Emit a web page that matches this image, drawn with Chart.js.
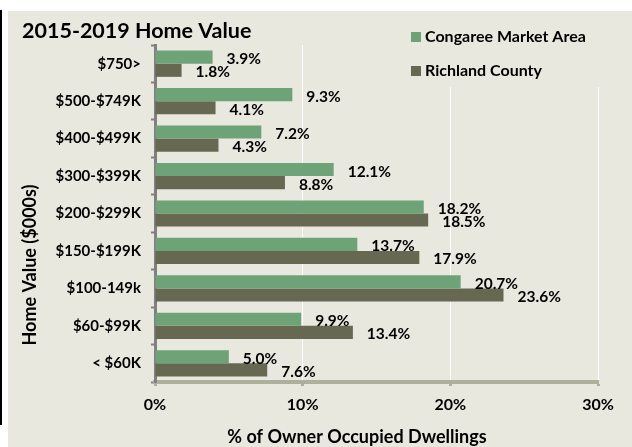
<!DOCTYPE html>
<html>
<head>
<meta charset="utf-8">
<script src="https://cdn.jsdelivr.net/npm/chart.js@4"></script>
<style>
  body { margin: 0; background: #fff; }
  #edge { position: absolute; left: 0; top: 10px; width: 2px; height: 415px; background: #000; }
  #wrap { position: absolute; left: 8px; top: 11px; width: 624px; height: 436px; background: #E9E8DE; }
</style>
</head>
<body>
<div id="edge"></div>
<div id="wrap"><canvas id="chart"></canvas></div>
<script>
const categories = ["$750>", "$500-$749K", "$400-$499K", "$300-$399K", "$200-$299K", "$150-$199K", "$100-149k", "$60-$99K", "< $60K"];
const congaree = [3.9, 9.3, 7.2, 12.1, 18.2, 13.7, 20.7, 9.9, 5.0];
const richland = [1.8, 4.1, 4.3, 8.8, 18.5, 17.9, 23.6, 13.4, 7.6];
const seriesNames = ["Congaree Market Area", "Richland County"];
const xTitle = "% of Owner Occupied Dwellings";
const yTitle = "Home Value ($000s)";
const xMax = 30;

const BG = "#E9E8DE";
const FONT = "Lato";

// value labels at the end of each bar
const barLabels = {
  id: "barLabels",
  afterDatasetsDraw(chart) {
    const ctx = chart.ctx;
    ctx.save();
    ctx.font = "bold 15.5px " + FONT;
    ctx.fillStyle = "#000";
    ctx.textBaseline = "middle";
    chart.data.datasets.forEach((ds, i) => {
      chart.getDatasetMeta(i).data.forEach((bar, j) => {
        ctx.fillText(ds.data[j].toFixed(1) + "%", bar.x + 14, bar.y + 2);
      });
    });
    ctx.restore();
  }
};

// legend box top right (covers grid lines) + axis titles placed like the original
const extras = {
  id: "extras",
  afterDraw(chart) {
    const ctx = chart.ctx;
    ctx.save();
    ctx.fillStyle = BG;
    ctx.fillRect(392, 0, 232, 76);
    ctx.font = "bold 16px " + FONT;
    ctx.textBaseline = "middle";
    chart.data.datasets.forEach((ds, i) => {
      const y = 26 + i * 34;
      ctx.fillStyle = ds.backgroundColor;
      ctx.fillRect(403, y - 5, 10, 10);
      ctx.fillStyle = "#000";
      ctx.fillText(ds.label, 417, y);
    });

    ctx.font = "bold 18px " + FONT;
    ctx.textAlign = "center";
    ctx.fillText(xTitle, 349, 426);
    ctx.translate(22, 254);
    ctx.rotate(-Math.PI / 2);
    ctx.fillText(yTitle, 0, 0);
    ctx.restore();
  }
};

new Chart(document.getElementById("chart"), {
  type: "bar",
  data: {
    labels: categories,
    datasets: [
      { label: seriesNames[0], data: congaree, backgroundColor: "#6EA277" },
      { label: seriesNames[1], data: richland, backgroundColor: "#666852" }
    ]
  },
  options: {
    indexAxis: "y",
    responsive: true,
    maintainAspectRatio: false,
    animation: false,
    layout: { padding: { left: 14, right: 34, top: 0, bottom: 0 } },
    datasets: { bar: { barPercentage: 1.0, categoryPercentage: 0.7 } },
    plugins: {
      legend: { display: false },
      tooltip: { enabled: false },
      title: {
        display: true,
        text: "2015-2019 Home Value",
        align: "start",
        color: "#000",
        font: { family: FONT, size: 21.5, weight: "bold", lineHeight: 1.2 },
        padding: { top: 7, bottom: 1.2 }
      }
    },
    scales: {
      x: {
        min: 0,
        max: xMax,
        ticks: {
          stepSize: 10,
          color: "#000",
          padding: 9,
          font: { family: FONT, size: 16, weight: "bold" },
          callback: (v) => v + "%"
        },
        grid: { color: "#fff", lineWidth: 1, tickColor: "#ADB09A", tickLength: 4, tickWidth: 3 },
        border: { color: "#ADB09A", width: 4 },
        afterFit: (scale) => { scale.height = 65; }
      },
      y: {
        offset: true,
        ticks: {
          color: "#000",
          padding: 10,
          font: { family: FONT, size: 15, weight: "bold" }
        },
        grid: { offset: true, drawOnChartArea: false, tickColor: "#808080", tickLength: 4, tickWidth: 2 },
        border: { color: "#808080", width: 3 },
        afterFit: (scale) => { scale.width = 133; }
      }
    }
  },
  plugins: [barLabels, extras]
});
</script>
</body>
</html>
